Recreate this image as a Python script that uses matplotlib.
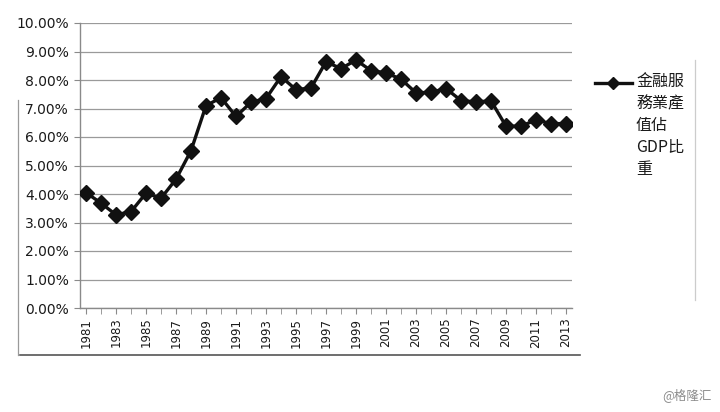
import matplotlib
matplotlib.use("Agg")
import matplotlib.pyplot as plt
from matplotlib.lines import Line2D
from matplotlib.ticker import FuncFormatter, MultipleLocator

# data
years = list(range(1981, 2014))
share = [4.05, 3.68, 3.27, 3.38, 4.03, 3.85, 4.52, 5.52, 7.10, 7.38,
         6.72, 7.22, 7.35, 8.12, 7.66, 7.72, 8.64, 8.40, 8.70, 8.33,
         8.25, 8.03, 7.55, 7.57, 7.70, 7.28, 7.23, 7.27, 6.38, 6.38,
         6.60, 6.47, 6.47]
series_name = "金融服\n務業產\n值佔\nGDP比\n重"
year_labels = years[::2]

W, H = 720, 412
fig = plt.figure(figsize=(W / 100, H / 100), dpi=100)
ax = fig.add_axes([80 / W, 1 - 308 / H, (572 - 80) / W, (308 - 23) / H])

ax.plot(years, share, color="#111111", lw=2.4, marker="D", ms=8.5,
        mfc="#111111", mec="#111111", zorder=3)

ax.set_xlim(1980.6, 2013.4)
ax.set_ylim(0, 10)
ax.yaxis.set_major_locator(MultipleLocator(1))
ax.yaxis.set_major_formatter(FuncFormatter(lambda v, p: f"{v:.2f}%"))
ax.set_xticks(year_labels)
ax.set_xticklabels([str(y) for y in year_labels], rotation=90)
ax.set_xticks(years, minor=True)

ax.grid(axis="y", color="#9a9a9a", lw=0.9)
ax.set_axisbelow(True)
for s in ["top", "right"]:
    ax.spines[s].set_visible(False)
for s in ["left", "bottom"]:
    ax.spines[s].set_color("#8a8a8a")
    ax.spines[s].set_linewidth(1.0)
ax.tick_params(axis="y", labelsize=10, length=4, color="#8a8a8a",
               labelcolor="#1a1a1a", pad=4)
ax.tick_params(axis="x", which="both", labelsize=8.5, length=4,
               color="#8a8a8a", labelcolor="#1a1a1a", pad=3)

# legend drawn by hand (text wrapped over several lines)
ly = 1 - 83 / H
fig.add_artist(Line2D([595 / W, 632 / W], [ly, ly], color="#111111", lw=2.4,
                      transform=fig.transFigure))
fig.add_artist(Line2D([613 / W], [ly], color="#111111", marker="D", ms=6.5,
                      transform=fig.transFigure))
fig.text(636 / W, 1 - 73 / H, series_name, va="top", ha="left",
         fontsize=11.5, linespacing=1.38, color="#1a1a1a",
         family=["Noto Sans CJK TC", "DejaVu Sans"])

# chart area frame (partly visible in the photo)
fig.add_artist(Line2D([20 / W, 580 / W], [1 - 355 / H] * 2, color="#555555",
                      lw=1.2, transform=fig.transFigure))
fig.add_artist(Line2D([18 / W, 18 / W], [1 - 355 / H, 1 - 100 / H],
                      color="#9a9a9a", lw=0.9, transform=fig.transFigure))
fig.add_artist(Line2D([695 / W, 695 / W], [1 - 300 / H, 1 - 60 / H],
                      color="#cccccc", lw=0.9, transform=fig.transFigure))

fig.text(712 / W, 1 - 395 / H, "@格隆汇", ha="right", va="center",
         fontsize=9, color="#8c8c8c", family=["Noto Sans CJK SC", "DejaVu Sans"])

fig.savefig("out.png", dpi=100)
